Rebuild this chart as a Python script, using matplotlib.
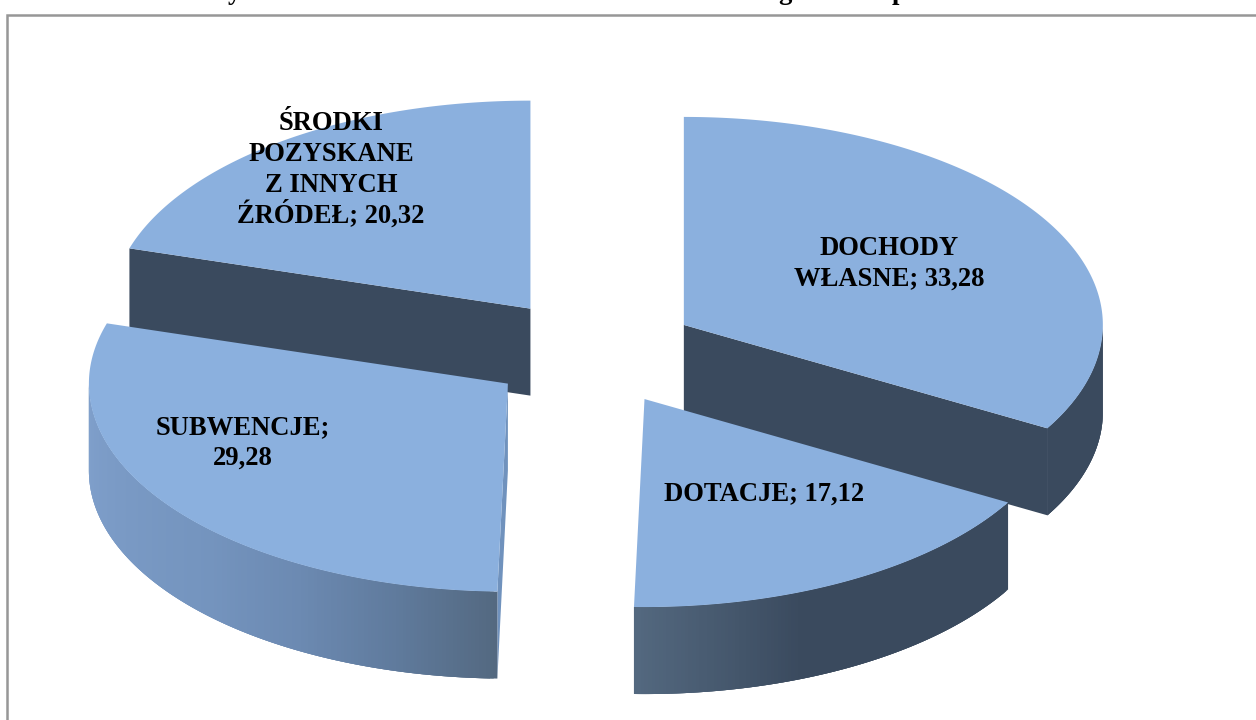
import numpy as np
import matplotlib
matplotlib.use('Agg')
import matplotlib.pyplot as plt
from matplotlib.colors import to_rgb

plt.rcParams['font.family'] = ['Liberation Serif', 'DejaVu Serif']

# Data
categories = ['DOCHODY\nWŁASNE', 'DOTACJE', 'SUBWENCJE', 'ŚRODKI\nPOZYSKANE\nZ INNYCH\nŹRÓDEŁ']
values = [33.28, 17.12, 29.28, 20.32]
label_seps = ['; ', '; ', ';\n', '; ']
label_pos = [(889, 262), (764, 492), (243, 440.5), (331, 167.5)]

# Pie geometry in pixels
cx, cy = 593, 352
rx, ry = 419, 208
ex, ey = 105, 54
depth = 87

top_color = '#8BB0DE'
dark_color = '#3A4A5E'
# outer wall shade by angle, clockwise from 12 o'clock
shade_angles = [158, 181, 195, 210, 225, 270]
shade_colors = ['#3A4A5E', '#53687F', '#5F7A9C', '#6C8AB2', '#7494BE', '#80A0CC']

line_step = 30.7
cap_half = 8.8


def wall_color(theta):
    rgb = np.array([to_rgb(c) for c in shade_colors])
    return [np.interp(theta, shade_angles, rgb[:, i]) for i in range(3)]


fig = plt.figure(figsize=(12.56, 7.2), dpi=100)
ax = fig.add_axes([0, 0, 1, 1])
ax.set_xlim(0, 1256)
ax.set_ylim(720, 0)
ax.axis('off')

# Chart frame, only top and left fall inside the picture
ax.plot([1256, 6.5, 6.5], [15, 15, 720], color='#979797', lw=1.8, solid_joinstyle='miter')

# Title descenders cut off at the top edge
for x, ch in [(234, 'y'), (785, 'g'), (899, 'p')]:
    ax.text(x, -1, ch, fontsize=19.2, fontweight='bold', ha='center', va='baseline', color='black')

edges = np.cumsum([0] + values) / sum(values) * 360


def arc(ax0, ay0, t0, t1, n=181):
    t = np.radians(np.linspace(t0, t1, n))
    return ax0 + rx * np.sin(t), ay0 - ry * np.cos(t)


# Back to front: ŚRODKI, DOCHODY, SUBWENCJE, DOTACJE
for i in [3, 0, 2, 1]:
    t0, t1 = edges[i], edges[i + 1]
    mid = np.radians((t0 + t1) / 2)
    ax0 = cx + ex * np.sin(mid)
    ay0 = cy - ey * np.cos(mid)

    # cut faces that look towards the viewer
    cuts = {0: (t1, dark_color), 2: (t0, '#7092BD'), 3: (t0, dark_color)}
    if i in cuts:
        t, col = cuts[i]
        xe, ye = arc(ax0, ay0, t, t, 2)
        ax.fill([ax0, xe[0], xe[0], ax0], [ay0, ye[0], ye[0] + depth, ay0 + depth],
                color=col, lw=0)

    # outer wall, only the front half of the rim shows
    # each strip runs on under the next one so no seams appear
    w0, w1 = max(t0, 90), min(t1, 270)
    if w1 > w0:
        steps = np.linspace(w0, w1, int(w1 - w0) * 2 + 2)
        step = steps[1] - steps[0]
        for a in steps[:-1]:
            b = min(a + 3 * step, w1)
            xs, ys = arc(ax0, ay0, a, b, 8)
            ax.fill(np.r_[xs, xs[::-1]], np.r_[ys, ys[::-1] + depth],
                    color=wall_color(a + step / 2), lw=0)

    # top face
    xs, ys = arc(ax0, ay0, t0, t1)
    ax.fill(np.r_[ax0, xs], np.r_[ay0, ys], color=top_color, lw=0)

# Data labels, one text per line so the accents do not move the spacing
for name, val, sep, (x, y) in zip(categories, values, label_seps, label_pos):
    lines = (name + sep + f'{val:.2f}'.replace('.', ',')).split('\n')
    for k, line in enumerate(lines):
        base = y + (k - (len(lines) - 1) / 2) * line_step + cap_half
        ax.text(x, base, line, ha='center', va='baseline', fontsize=19.2,
                fontweight='bold', color='black')

fig.savefig('out.png', dpi=100)
